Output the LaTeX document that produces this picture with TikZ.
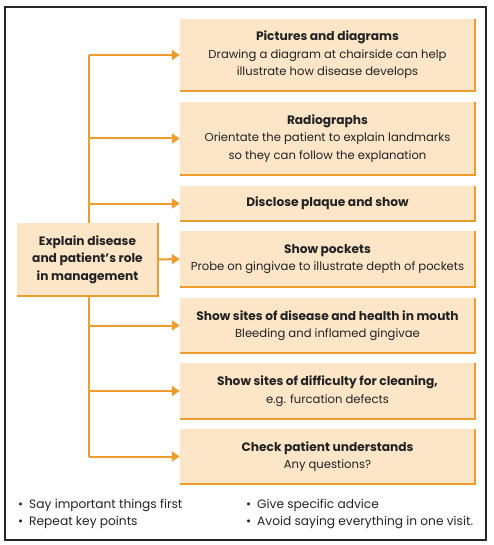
\documentclass[tikz,border=0pt]{standalone}
\usepackage{fontspec}
\setmainfont{Poppins}
\usetikzlibrary{arrows.meta}
\definecolor{peach}{HTML}{FDE5C8}
\definecolor{orng}{HTML}{EE9C2E}
\definecolor{txt}{HTML}{222222}
\newcommand\hdtxt[1]{{\fontsize{12.2}{17.5}\selectfont\bfseries #1}}
\begin{document}
\begin{tikzpicture}[x=1pt,y=-1pt,
  pbox/.style={fill=peach, inner sep=0pt, align=center, text=txt,
    font=\fontsize{11.6}{17.5}\selectfont, minimum width=295pt},
  lbox/.style={pbox, minimum width=141pt, minimum height=73pt},
  conn/.style={draw=orng, line width=2pt},
  arr/.style={conn, -{Triangle[length=8pt,width=10pt]}},
  edge/.style={draw=orng, line width=2pt},
  bul/.style={anchor=west, inner sep=0pt, text=txt, font=\fontsize{12.2}{17}\selectfont, align=left}]
\useasboundingbox (0,0) rectangle (493,545);
\draw[line width=1.3pt, draw=black!85] (5,7) rectangle (486,540);
\node[pbox, minimum height=72pt] (b1) at (327.5,55) {\hdtxt{Pictures and diagrams}\\Drawing a diagram at chairside can help\\illustrate how disease develops};
\node[pbox, minimum height=73pt] (b2) at (327.5,138.5) {\hdtxt{Radiographs}\\Orientate the patient to explain landmarks\\so they can follow the explanation};
\node[pbox, minimum height=35pt] (b3) at (327.5,203.5) {\hdtxt{Disclose plaque and show}};
\node[pbox, minimum height=56pt] (b4) at (327.5,259) {\hdtxt{Show pockets}\\Probe on gingivae to illustrate depth of pockets};
\node[pbox, minimum height=55pt] (b5) at (327.5,325.5) {\hdtxt{Show sites of disease and health in mouth}\\Bleeding and inflamed gingivae};
\node[pbox, minimum height=56pt] (b6) at (327.5,391) {\hdtxt{Show sites of difficulty for cleaning,}\\e.g. furcation defects};
\node[pbox, minimum height=55pt] (b7) at (327.5,456.5) {\hdtxt{Check patient understands}\\Any questions?};
\node[lbox] (L) at (87.5,259.5) {\hdtxt{Explain disease}\\\hdtxt{and patient's role}\\\hdtxt{in management}};
\foreach \n in {b1,b2,b3,b4,b5,b6,b7,L}
  \draw[edge] (\n.south west) -- (\n.south east) -- (\n.north east);
\coordinate (t1) at (89,55);
\coordinate (t2) at (89,138.5);
\coordinate (t3) at (89,203.5);
\coordinate (t5) at (89,325.5);
\coordinate (t6) at (89,391);
\coordinate (t7) at (89,456.5);
\draw[conn] (t1) -- (t1 |- L.north);
\draw[conn] (t7) -- (t7 |- L.south);
\foreach \t/\b in {t1/b1,t2/b2,t3/b3,t5/b5,t6/b6,t7/b7}
  \draw[arr] (\t) -- (\b.west);
\draw[arr] (L.east) -- (b4.west);
\node[bul] (n1) at (18,505) {•\hspace{6pt}Say important things first};
\node[bul] (n2) at (18,522) {•\hspace{6pt}Repeat key points};
\node[bul] (n3) at (246,505) {•\hspace{6pt}Give specific advice};
\node[bul] (n4) at (246,522) {•\hspace{6pt}Avoid saying everything in one visit.};
\end{tikzpicture}
\end{document}
